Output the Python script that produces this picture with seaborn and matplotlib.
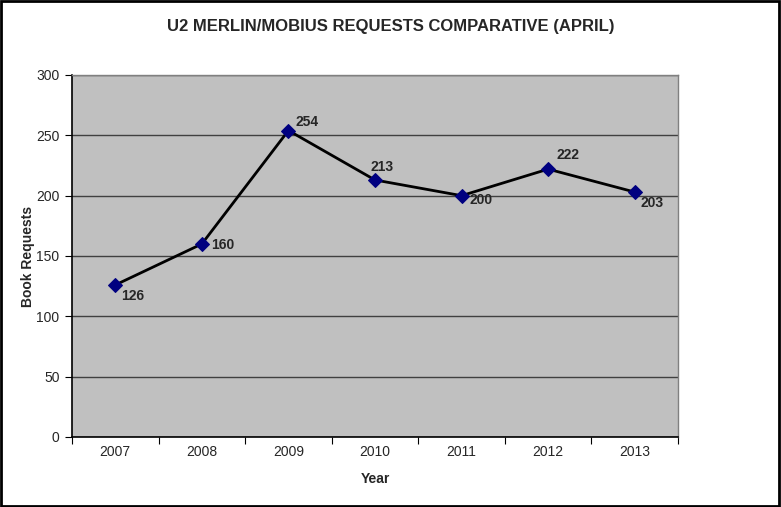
import matplotlib
matplotlib.use('Agg')
import matplotlib.pyplot as plt
import seaborn as sns
import pandas as pd
from matplotlib.patches import Rectangle

# Datos
years = ['2007', '2008', '2009', '2010', '2011', '2012', '2013']
requests = [126, 160, 254, 213, 200, 222, 203]
# desplazamiento de cada etiqueta (puntos)
label_offsets = [(4, -8), (7, -1), (5, 6), (-3, 9), (6, -3), (6, 10), (4, -8)]

df = pd.DataFrame({'pos': range(len(years)), 'year': years, 'requests': requests})

sns.set_style('white')
plt.rcParams['font.family'] = ['Liberation Sans', 'DejaVu Sans']

fig = plt.figure(figsize=(7.81, 5.07), dpi=100)
ax = fig.add_axes([72 / 781, 1 - 437 / 507, (678 - 72) / 781, (437 - 75) / 507])
ax.set_facecolor('#c0c0c0')

sns.lineplot(data=df, x='pos', y='requests', ax=ax, color='black', linewidth=2,
             marker='D', markersize=7, markerfacecolor='#000080',
             markeredgecolor='#000080', zorder=3)

for (i, row), off in zip(df.iterrows(), label_offsets):
    ax.annotate(str(row['requests']), (row['pos'], row['requests']),
                xytext=off, textcoords='offset points', fontsize=10,
                fontweight='bold', ha='left', va='center')

ax.set_xlim(-0.5, len(years) - 0.5)
ax.set_ylim(0, 300)
ax.set_yticks(range(0, 301, 50))
ax.yaxis.grid(True, color='#404040', linewidth=1)
ax.set_axisbelow(True)

# marcas en los limites de las categorias, etiquetas en el centro
ax.set_xticks([i - 0.5 for i in range(len(years) + 1)])
ax.set_xticklabels([])
ax.set_xticks(range(len(years)), minor=True)
ax.set_xticklabels(years, minor=True)
ax.tick_params(axis='x', which='major', length=5, color='black', direction='out', bottom=True)
ax.tick_params(axis='x', which='minor', length=0, pad=6, labelsize=10)
ax.tick_params(axis='y', length=5, color='black', direction='out', left=True, labelsize=10, pad=4)

for side in ['top', 'right']:
    ax.spines[side].set_color('#808080')
    ax.spines[side].set_linewidth(1)
for side in ['left', 'bottom']:
    ax.spines[side].set_color('black')
    ax.spines[side].set_linewidth(1.2)

ax.set_xlabel('Year', fontsize=10, fontweight='bold', labelpad=9)
ax.set_ylabel('Book Requests', fontsize=10, fontweight='bold', labelpad=1)
fig.suptitle('U2 MERLIN/MOBIUS REQUESTS COMPARATIVE (APRIL)', fontsize=12,
             fontweight='bold', y=1 - 27 / 507, va='center', x=0.5)

fig.patches.append(Rectangle((0.001, 0.001), 0.997, 0.997, transform=fig.transFigure,
                             fill=False, edgecolor='black', linewidth=2))

fig.savefig('out.png', dpi=100)
